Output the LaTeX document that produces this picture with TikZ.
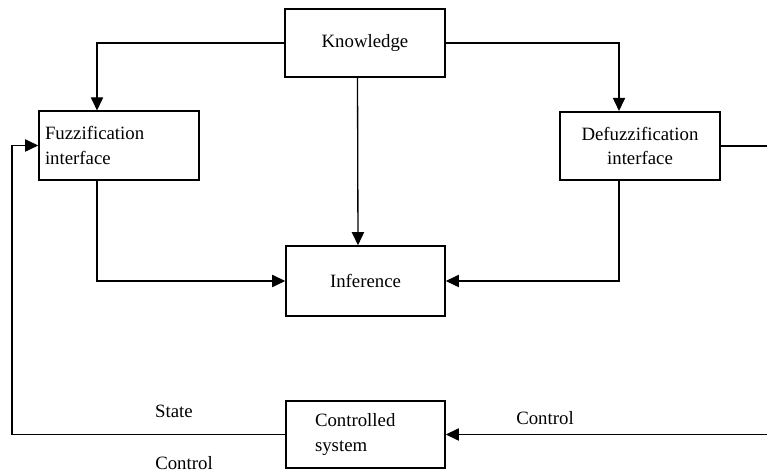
\documentclass[tikz,border=0pt]{standalone}
\usepackage{fontspec}
\setmainfont{Liberation Serif}
\usepackage{tikz}
\usetikzlibrary{positioning}
\usetikzlibrary{arrows.meta}

\begin{document}
\begin{tikzpicture}[x=0.02cm,y=-0.02cm]
\tikzset{every node/.style={font=\fontsize{10.7}{14.2}\selectfont, inner sep=0pt},
  blockbox/.style={draw, line width=0.9pt, minimum width=3.2cm, minimum height=1.37cm},
  link/.style={line width=0.75pt, -{Triangle[length=7.5pt,width=7pt]}}}
\useasboundingbox (0,0) rectangle (767,475);
% blocks
\node [blockbox] at (365,43) (know) {Knowledge};
\node [blockbox, text width=2.96cm, align=left] at (119,145.5) (fuzz) {Fuzzification\\interface};
\node [blockbox, align=center] at (640,146) (defuzz) {Defuzzification\\interface};
\node [blockbox, minimum width=3.18cm, minimum height=1.4cm] at (365.5,281) (infer) {Inference};
\node [blockbox, minimum width=3.18cm, minimum height=1.34cm, text width=2.02cm, align=left] at (365.5,434.5) (plant) {Controlled\\system};
% labels
\node at (174,411) (state) {State};
\node at (184,463) (ctrlleft) {Control};
\node at (545,418) (ctrlright) {Control};
% free ends
\coordinate (outright) at (767,146);
\coordinate (inright) at (767,434.5);
\coordinate (loopcorner) at (12,434.5);
% connectors
\draw [link] (know.west) -| ([xshift=-0.44cm]fuzz.north);
\draw [link] (know.east) -| ([xshift=-0.42cm]defuzz.north);
\draw [link] ([xshift=-0.15cm]know.south) -- ([xshift=-0.15cm]infer.north);
\draw [link] ([xshift=-0.44cm]fuzz.south) |- (infer.west);
\draw [link] ([xshift=-0.42cm]defuzz.south) |- (infer.east);
\draw [line width=0.9pt] (defuzz.east) -- (outright);
\draw [link] (inright) -- (plant.east);
\draw [link] (plant.west) -- (loopcorner) |- (fuzz.west);
\end{tikzpicture}
\end{document}
